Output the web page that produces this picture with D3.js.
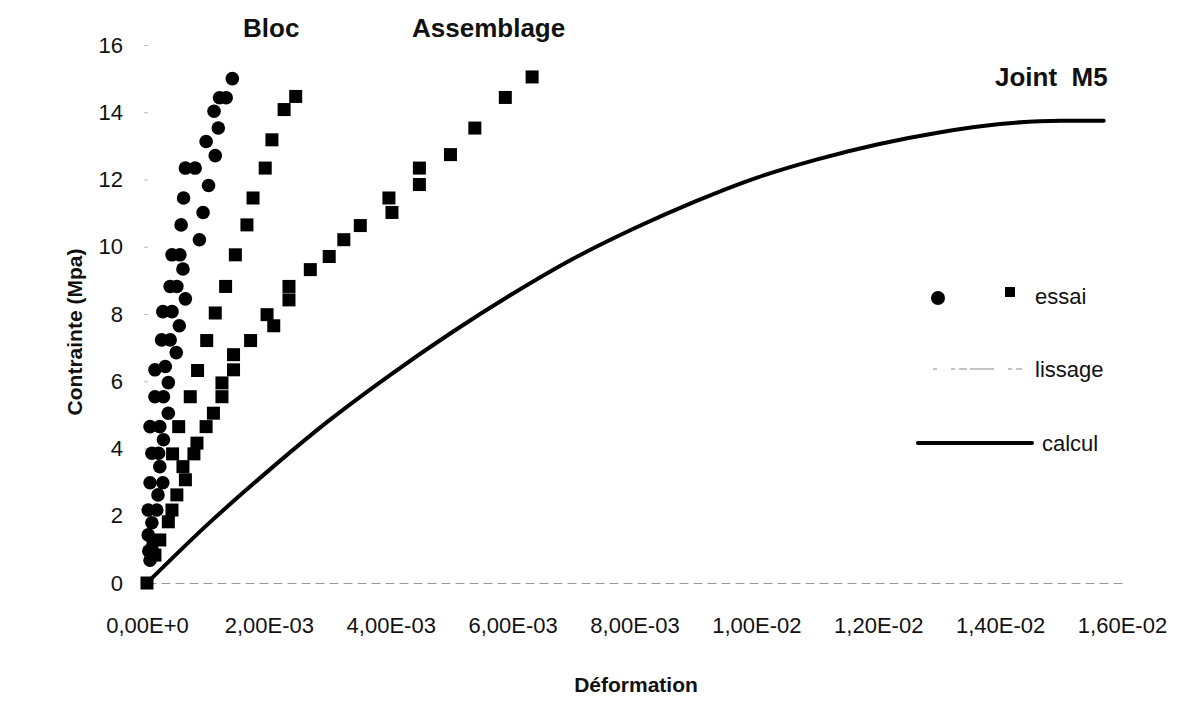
<!DOCTYPE html>
<html>
<head>
<meta charset="utf-8">
<script src="https://cdn.jsdelivr.net/npm/d3@7/dist/d3.min.js"></script>
<style>
  body { margin: 0; background: #fff; }
  text { font-family: "Liberation Sans", Arial, Helvetica, sans-serif; fill: #111; }
</style>
</head>
<body>
<div class="container"></div>
<script>
// strain values are in units of 1E-03, stress in MPa
var xTicks = [0, 2, 4, 6, 8, 10, 12, 14, 16];
var xTickLabels = ["0,00E+0", "2,00E-03", "4,00E-03", "6,00E-03", "8,00E-03",
                   "1,00E-02", "1,20E-02", "1,40E-02", "1,60E-02"];
var yTicks = [0, 2, 4, 6, 8, 10, 12, 14, 16];

// Bloc, circles
var blocStrain = [1.40,1.19,1.30,1.10,1.17,0.97,1.12,0.63,0.79,1.01,0.60,0.92,0.56,0.86,0.41,0.54,0.59,
                  0.38,0.49,0.63,0.26,0.41,0.53,0.24,0.38,0.48,0.13,0.30,0.35,0.13,0.27,0.35,0.05,0.21,
                  0.27,0.08,0.19,0.21,0.05,0.26,0.18,0.02,0.16,0.08,0.02,0.08,0.05,0.10,0.03];
var blocStress = [15.0,14.43,14.43,14.03,13.53,13.13,12.71,12.34,12.34,11.82,11.45,11.02,10.65,10.21,9.76,9.76,9.34,
                  8.82,8.82,8.45,8.07,8.07,7.65,7.23,7.23,6.85,6.34,6.44,5.96,5.54,5.54,5.05,4.65,4.65,
                  4.26,3.86,3.86,3.46,2.98,2.98,2.62,2.17,2.17,1.79,1.43,1.04,0.68,1.25,0.95];

// Bloc, squares
var blocSqStrain = [2.44,2.25,2.05,1.94,1.74,1.64,1.45,1.29,1.12,0.98,0.83,0.71,0.52,0.42,0.59,0.41,0.35,0.21,0.13,0];
var blocSqStress = [14.47,14.08,13.18,12.34,11.45,10.65,9.76,8.82,8.03,7.21,6.32,5.54,4.65,3.84,3.46,2.17,1.82,1.28,0.83,0];

// Assemblage, squares
var asmStrain = [6.32,5.88,5.38,4.98,4.47,4.47,3.97,4.02,3.50,3.23,2.99,2.68,2.33,2.33,1.97,2.08,1.70,
                 1.42,1.42,1.23,1.23,1.09,0.97,0.82,0.77,0.63,0.49];
var asmStress = [15.05,14.44,13.53,12.74,12.34,11.85,11.45,11.02,10.63,10.21,9.71,9.32,8.82,8.42,7.98,7.65,7.21,
                 6.79,6.34,5.95,5.54,5.05,4.65,4.16,3.84,3.07,2.62];

// Joint M5, calcul
var calcStrain = [0, 1, 2, 3, 4, 5, 6, 7, 8, 9, 10, 11, 12, 13, 14, 15, 15.7];
var calcStress = [0, 1.75, 3.35, 4.85, 6.2, 7.45, 8.6, 9.65, 10.55, 11.35, 12.05, 12.6, 13.05, 13.4, 13.65, 13.75, 13.75];

(function(){

    var svg = d3.select(".container").append("svg")
        .attr("width", 1194)
        .attr("height", 719);

    svg.append("rect").attr("width", 1194).attr("height", 719).attr("fill", "#fff");

    var x = d3.scaleLinear().domain([0, 16]).range([147, 1122]);
    var y = d3.scaleLinear().domain([0, 16]).range([583, 45]);

    function zip(xs, ys) { return xs.map(function(d, i) { return [d, ys[i]]; }); }

    // x axis: grey dashed baseline, labels under ticks
    var xAxis = svg.append("g")
        .attr("transform", "translate(0," + y(0) + ")")
        .call(d3.axisBottom(x).tickValues(xTicks).tickSize(0).tickPadding(34)
            .tickFormat(function(d, i) { return xTickLabels[i]; }));
    xAxis.select(".domain").attr("stroke", "#999").attr("stroke-dasharray", "9,5");
    xAxis.selectAll("text").style("font-size", "22px").attr("fill", "#111");
    xAxis.attr("font-family", null);

    // y axis: only faint tick dashes
    var yAxis = svg.append("g")
        .attr("transform", "translate(148,0)")
        .call(d3.axisLeft(y).tickValues(yTicks).tickSize(4).tickPadding(21));
    yAxis.select(".domain").remove();
    yAxis.selectAll("line").attr("stroke", "#bbb");
    yAxis.selectAll("text").style("font-size", "22px").attr("fill", "#111");
    yAxis.attr("font-family", null);

    // calcul line
    var line = d3.line()
        .x(function(d) { return x(d[0]); })
        .y(function(d) { return y(d[1]); })
        .curve(d3.curveMonotoneX);

    svg.append("path")
        .datum(zip(calcStrain, calcStress))
        .attr("d", line)
        .attr("fill", "none")
        .attr("stroke", "#000")
        .attr("stroke-width", 4)
        .attr("stroke-linecap", "round");

    // essai points
    var sq = 13;
    function squares(data) {
        svg.append("g").selectAll("rect")
            .data(data)
            .enter().append("rect")
            .attr("x", function(d) { return x(d[0]) - sq / 2; })
            .attr("y", function(d) { return y(d[1]) - sq / 2; })
            .attr("width", sq)
            .attr("height", sq)
            .attr("fill", "#000");
    }
    squares(zip(asmStrain, asmStress));
    squares(zip(blocSqStrain, blocSqStress));

    svg.append("g").selectAll("circle")
        .data(zip(blocStrain, blocStress))
        .enter().append("circle")
        .attr("cx", function(d) { return x(d[0]); })
        .attr("cy", function(d) { return y(d[1]); })
        .attr("r", 6.8)
        .attr("fill", "#000");

    // curve names
    svg.append("text").attr("x", 243).attr("y", 37).text("Bloc")
        .style("font-weight", "bold").style("font-size", "26px");
    svg.append("text").attr("x", 412).attr("y", 37).text("Assemblage")
        .style("font-weight", "bold").style("font-size", "26px");
    svg.append("text").attr("x", 995).attr("y", 86).attr("xml:space", "preserve").text("Joint  M5")
        .style("font-weight", "bold").style("font-size", "26px");

    // axis titles
    svg.append("text")
        .attr("transform", "translate(82,332) rotate(-90)")
        .attr("text-anchor", "middle")
        .text("Contrainte (Mpa)")
        .style("font-weight", "bold").style("font-size", "21px");
    svg.append("text")
        .attr("x", 636).attr("y", 692)
        .attr("text-anchor", "middle")
        .text("Déformation")
        .style("font-weight", "bold").style("font-size", "21px");

    // legend
    var legend = svg.append("g");
    legend.append("circle").attr("cx", 938).attr("cy", 298).attr("r", 7).attr("fill", "#000");
    legend.append("rect").attr("x", 1005).attr("y", 287).attr("width", 10).attr("height", 10).attr("fill", "#000");
    legend.append("text").attr("x", 1035).attr("y", 304).text("essai").style("font-size", "22px");

    legend.append("line").attr("x1", 933).attr("x2", 1022).attr("y1", 369).attr("y2", 369)
        .attr("stroke", "#888").attr("stroke-width", 1.2).attr("stroke-dasharray", "4,14,4,4,8,3,20,0");
    legend.append("text").attr("x", 1035).attr("y", 377).text("lissage").style("font-size", "22px");

    legend.append("line").attr("x1", 918).attr("x2", 1032).attr("y1", 443).attr("y2", 443)
        .attr("stroke", "#000").attr("stroke-width", 4).attr("stroke-linecap", "round");
    legend.append("text").attr("x", 1042).attr("y", 451).text("calcul").style("font-size", "22px");

})();
</script>
</body>
</html>
